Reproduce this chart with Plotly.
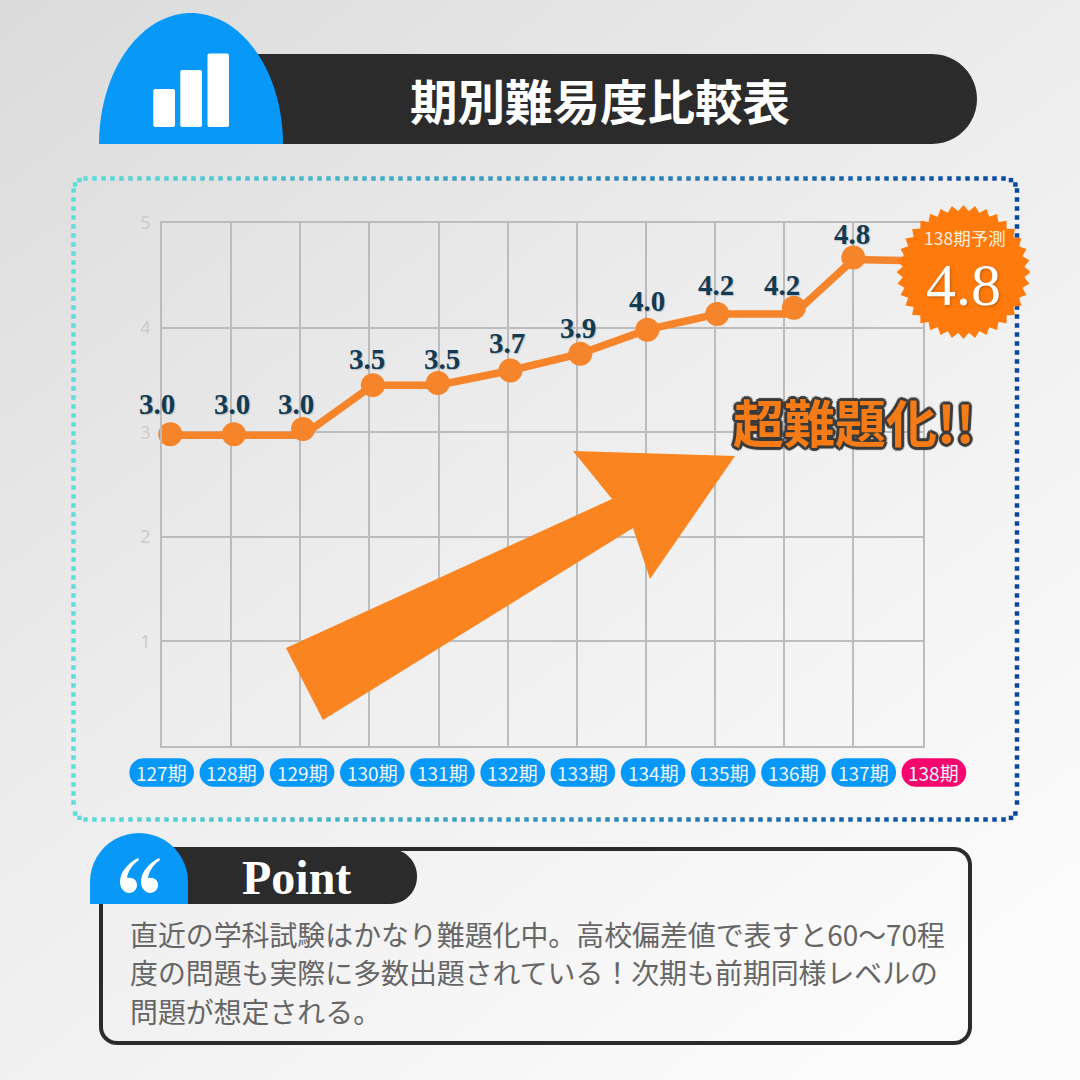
import math
import plotly.graph_objects as go

# ---------- data ----------
periods = ["127期", "128期", "129期", "130期", "131期", "132期", "133期", "134期", "135期", "136期", "137期", "138期"]
point_period = [127.12, 128.04, 129.04, 130.05, 130.99, 132.04, 133.05, 134.02, 135.03, 136.14, 137.0, 137.88]
point_difficulty = [2.98, 2.98, 3.03, 3.45, 3.47, 3.59, 3.75, 3.98, 4.13, 4.19, 4.67, 4.64]
line_difficulty = [2.97, 2.97, 2.97, 3.45, 3.45, 3.59, 3.75, 3.98, 4.13, 4.13, 4.65, 4.64]
value_labels = ["3.0", "3.0", "3.0", "3.5", "3.5", "3.7", "3.9", "4.0", "4.2", "4.2", "4.8"]
y_ticks = [1, 2, 3, 4, 5]
title_text = "期別難易度比較表"
badge_title = "138期予測"
badge_value = "4.8"
callout = "超難題化!!"
point_title = "Point"
point_lines = [
    "直近の学科試験はかなり難題化中。高校偏差値で表すと60～70程",
    "度の問題も実際に多数出題されている！次期も前期同様レベルの",
    "問題が想定される。",
]

# ---------- helpers (page pixels -> paper fractions) ----------
W = H = 1080
def px(x): return x / W
def py(y): return 1 - y / H
def path(points):
    return "M" + "L".join(f"{px(x):.5f},{py(y):.5f}" for x, y in points) + "Z"
def rrect(x0, y0, x1, y1, rtl=0, rtr=0, rbr=0, rbl=0):
    pts = []
    def arc(cx, cy, r, a0):
        if r == 0:
            pts.append((cx, cy)); return
        for i in range(13):
            a = math.radians(a0 + 90 * i / 12)
            pts.append((cx + r * math.cos(a), cy + r * math.sin(a)))
    arc(x0 + rtl, y0 + rtl, rtl, 180)
    arc(x1 - rtr, y0 + rtr, rtr, 270)
    arc(x1 - rbr, y1 - rbr, rbr, 0)
    arc(x0 + rbl, y1 - rbl, rbl, 90)
    return path(pts)
def poly_shape(d, fill, line=None, lw=0, layer="above"):
    return dict(type="path", xref="paper", yref="paper", path=d, fillcolor=fill,
                line=dict(color=line or "rgba(0,0,0,0)", width=lw), layer=layer)
def text(x, y, t, size, color, family, anchor="center", weight=None, shadow=None):
    f = dict(size=size, color=color, family=family)
    if weight: f["weight"] = weight
    if shadow: f["shadow"] = shadow
    return dict(xref="paper", yref="paper", x=px(x), y=py(y), text=t, showarrow=False,
                xanchor=anchor, yanchor="middle", font=f)

SANS = "Noto Sans CJK JP"
SERIF = "Liberation Serif"
DARK = "#2b2b2b"
BLUE = "#0898f8"
ORANGE = "#f5842a"

shapes, annos = [], []

# chart title band
shapes.append(poly_shape(rrect(240, 54, 977, 144, 0, 45, 45, 0), DARK))
dome = [(191 + 92 * math.cos(math.radians(a)), 144 - 131 * math.sin(math.radians(a))) for a in range(0, 181, 4)]
shapes.append(poly_shape(path(dome), BLUE))
for x0, x1, y0 in [(153.3, 175, 89), (180.3, 202, 70), (207.5, 229, 53.5)]:
    shapes.append(poly_shape(rrect(x0, y0, x1, 127, 2, 2, 2, 2), "#ffffff"))
annos.append(text(600, 100, title_text, 47.5, "#ffffff", SANS, weight=700))

# arrow
arrow = [(286, 648), (612, 499), (573, 451), (735, 456), (650, 579), (633, 528), (323, 720)]
shapes.append(poly_shape(path(arrow), "#fa8420"))

# badge
spikes = 36
cx, cy = 963.5, 272
badge = []
for i in range(spikes * 2):
    r = 67 if i % 2 == 0 else 61
    a = math.pi * i / spikes
    badge.append((cx + r * math.cos(a), cy + r * math.sin(a)))
shapes.append(poly_shape(path(badge), "#ff7a0c"))
annos.append(text(965, 238, badge_title, 17.5, "#fdeedd", SANS))
annos.append(text(963, 285, badge_value, 60, "#ffffff", SERIF, shadow="1px 1px 3px rgba(120,60,0,0.5)"))

# callout
o = "#3a3a3a"
outline = ",".join(f"{dx}px {dy}px 1px {o}" for dx, dy in [(3,0),(-3,0),(0,3),(0,-3),(2,2),(-2,2),(2,-2),(-2,-2)])
annos.append(text(854, 421, callout, 51, "#f47b16", SANS, weight=700, shadow=outline))

# x labels as pills
for i, name in enumerate(periods):
    x0 = 129.4 + 70.2 * i
    color = "#f5056e" if i == len(periods) - 1 else BLUE
    shapes.append(poly_shape(rrect(x0, 758.3, x0 + 64.6, 786.7, 14, 14, 14, 14), color))
    annos.append(text(x0 + 32.3, 772.5, name, 19, "#eef7ff", SANS))

# point box
shapes.append(poly_shape(rrect(101, 849, 970, 1043, 16, 16, 16, 16), "rgba(0,0,0,0)", DARK, 4))
shapes.append(poly_shape(rrect(170, 849, 417, 904, 0, 27, 27, 0), DARK))
shapes.append(poly_shape(rrect(90, 833, 188, 904, 49, 49, 0, 0), BLUE))
annos.append(text(296, 877, point_title, 48, "#ffffff", SERIF, weight=700))
# opening-quote icon: two teardrops
def quote_path(dx):
    c = lambda x, y: f"{px(x + dx):.5f},{py(y):.5f}"
    return ("M" + c(138, 858) + "C" + c(128, 863) + " " + c(120, 872) + " " + c(120, 882)
            + "C" + c(120, 889) + " " + c(125, 893) + " " + c(129, 893)
            + "C" + c(134, 893) + " " + c(137, 889) + " " + c(137, 885)
            + "C" + c(137, 880) + " " + c(133, 877) + " " + c(127, 878)
            + "C" + c(128, 871) + " " + c(133, 864) + " " + c(139, 860) + "Z")
shapes.append(poly_shape(quote_path(0), "#ffffff"))
shapes.append(poly_shape(quote_path(21), "#ffffff"))
for t, y in zip(point_lines, [933.5, 972, 1011]):
    annos.append(text(128, y, t, 27.9, "#666666", SANS, anchor="left"))

# value labels, attached to their points
label_dx = [-13, -2, -7, -6, 4, -3, -2, 0, -1, -12, -1]
label_dy = [30, 30, 25, 26, 24, 27, 26, 29, 29, 23, 24]
for px_, v, t, dx, dy in zip(point_period, point_difficulty, value_labels, label_dx, label_dy):
    annos.append(dict(x=px_, y=v, xref="x", yref="y", text=t, showarrow=False, xshift=dx, yshift=dy,
                      xanchor="center", yanchor="middle",
                      font=dict(size=29, color="#123a52", family=SERIF, weight=700,
                                shadow="1px 1px 1px rgba(60,90,110,0.3)")))

fig = go.Figure()

# dotted frame with a left-to-right colour change (scatter on a full-page pixel axis)
def frame_dots():
    x0, y0, x1, y1, r = 73.5, 178.5, 1017, 819.5, 12
    pts = []
    step = 9
    xs = x0 + r
    while xs < x1 - r:
        pts.append((xs, y0)); pts.append((xs, y1)); xs += step
    ys = y0 + r
    while ys < y1 - r:
        pts.append((x0, ys)); pts.append((x1, ys)); ys += step
    for ccx, ccy, a0 in [(x0 + r, y0 + r, 180), (x1 - r, y0 + r, 270), (x1 - r, y1 - r, 0), (x0 + r, y1 - r, 90)]:
        for k in (1, 2):
            a = math.radians(a0 + 30 * k)
            pts.append((ccx + r * math.cos(a), ccy + r * math.sin(a)))
    return pts
def mix(t):
    a, b = (94, 222, 216), (10, 72, 160)
    return "rgb(%d,%d,%d)" % tuple(round(a[i] + (b[i] - a[i]) * t) for i in range(3))
dots = frame_dots()

fig.add_trace(go.Scatter(
    x=point_period, y=line_difficulty, mode="lines", hoverinfo="skip", showlegend=False,
    line=dict(color=ORANGE, width=7.5), cliponaxis=False))
fig.add_trace(go.Scatter(
    x=point_period, y=point_difficulty, mode="markers", hoverinfo="skip", showlegend=False,
    marker=dict(color=ORANGE, size=24), cliponaxis=False))
fig.add_trace(go.Scatter(
    x=[p[0] for p in dots], y=[p[1] for p in dots], xaxis="x2", yaxis="y2", mode="markers",
    hoverinfo="skip", showlegend=False,
    marker=dict(symbol="square", size=4.5, color=[mix((p[0] - 73) / 945) for p in dots])))

bg_svg = ("data:image/svg+xml;utf8,<svg xmlns='http://www.w3.org/2000/svg' width='1080' height='1080'>"
          "<defs><linearGradient id='g' x1='0' y1='0' x2='0.75' y2='1'>"
          "<stop offset='0' stop-color='%23dbdbdb'/><stop offset='0.5' stop-color='%23ededed'/>"
          "<stop offset='1' stop-color='%23fbfbfb'/></linearGradient></defs>"
          "<rect width='1080' height='1080' fill='url(%23g)'/></svg>")

GRID = "#bcbcbc"
fig.update_layout(
    width=W, height=H, margin=dict(l=0, r=0, t=0, b=0, pad=0), autosize=False,
    paper_bgcolor="#eeeeee", plot_bgcolor="rgba(0,0,0,0)", showlegend=False,
    images=[dict(source=bg_svg, xref="paper", yref="paper", x=0, y=1, sizex=1, sizey=1,
                 xanchor="left", yanchor="top", sizing="stretch", layer="below")],
    xaxis=dict(domain=[px(162), px(922.5)], range=[127, 138], tick0=127, dtick=1, showgrid=True,
               gridcolor=GRID, gridwidth=1.5, showticklabels=False, zeroline=False, ticks="",
               automargin=False, showline=True, linecolor=GRID, linewidth=1.5, mirror=True),
    yaxis=dict(domain=[py(746), py(223)], range=[0, 5], tickvals=y_ticks, showgrid=True,
               gridcolor=GRID, gridwidth=1.5, zeroline=False, ticks="", ticklabelstandoff=6,
               automargin=False,
               tickfont=dict(size=18, color="#cccccc", family="Noto Sans"),
               showline=True, linecolor=GRID, linewidth=1.5, mirror=True),
    xaxis2=dict(domain=[0, 1], range=[0, W], visible=False, anchor="y2", automargin=False),
    yaxis2=dict(domain=[0, 1], range=[H, 0], visible=False, anchor="x2", automargin=False),
    shapes=shapes, annotations=annos,
)
fig.write_html("out.html", config=dict(displayModeBar=False),
               post_script="document.body.style.margin='0';")
